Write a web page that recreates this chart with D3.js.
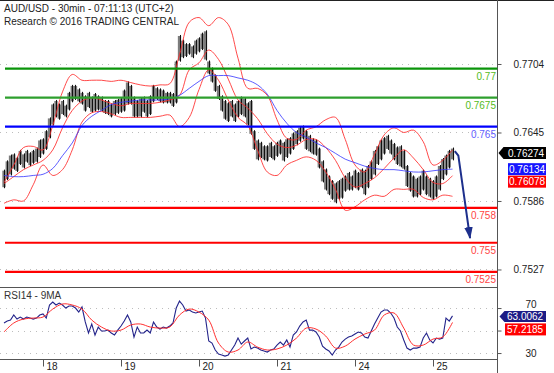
<!DOCTYPE html>
<html><head><meta charset="utf-8">
<script src="https://cdn.jsdelivr.net/npm/d3@7"></script>
<style>
body{margin:0;background:#fff;}
svg{display:block;font-family:"Liberation Sans",Arial,sans-serif;}
</style>
</head><body>
<svg id="chart" width="554" height="373"></svg>
<script>
// ---------- DATA ----------
// hourly high / low (AUD/USD), index 0 = 17th 12:00
const high = [0.7613,0.7621,0.7626,0.7627,0.7624,0.7630,0.7627,0.7630,0.7628,0.7630,
0.7632,0.7639,0.7640,0.7647,0.7658,0.7670,0.7673,0.7670,0.7673,0.7669,
0.7680,0.7686,0.7686,0.7683,0.7680,0.7677,0.7680,0.7676,0.7679,0.7677,
0.7676,0.7673,0.7673,0.7670,0.7673,0.7674,0.7675,0.7682,0.7689,0.7686,
0.7676,0.7673,0.7675,0.7676,0.7673,0.7677,0.7686,0.7684,0.7683,0.7682,
0.7680,0.7680,0.7679,0.7707,0.7729,0.7725,0.7722,0.7722,0.7720,0.7725,
0.7727,0.7731,0.7733,0.7707,0.7701,0.7695,0.7686,0.7677,0.7673,0.7671,
0.7673,0.7670,0.7673,0.7676,0.7675,0.7671,0.7673,0.7647,0.7639,0.7637,
0.7634,0.7634,0.7637,0.7634,0.7637,0.7639,0.7637,0.7640,0.7641,0.7645,
0.7647,0.7650,0.7651,0.7647,0.7643,0.7640,0.7639,0.7632,0.7621,0.7614,
0.7608,0.7604,0.7602,0.7604,0.7606,0.7608,0.7611,0.7608,0.7613,0.7611,
0.7614,0.7613,0.7617,0.7621,0.7630,0.7634,0.7639,0.7641,0.7643,0.7639,
0.7636,0.7633,0.7634,0.7630,0.7617,0.7611,0.7608,0.7606,0.7608,0.7613,
0.7608,0.7606,0.7604,0.7608,0.7617,0.7623,0.7626,0.7630,0.7632];
const low = [0.7597,0.7604,0.7608,0.7613,0.7611,0.7617,0.7614,0.7619,0.7616,0.7618,
0.7619,0.7623,0.7626,0.7630,0.7640,0.7651,0.7658,0.7656,0.7660,0.7658,
0.7664,0.7671,0.7673,0.7671,0.7669,0.7663,0.7666,0.7662,0.7663,0.7664,
0.7663,0.7661,0.7660,0.7658,0.7660,0.7661,0.7662,0.7663,0.7669,0.7669,
0.7658,0.7658,0.7658,0.7662,0.7658,0.7660,0.7671,0.7673,0.7671,0.7670,
0.7670,0.7670,0.7667,0.7670,0.7706,0.7709,0.7710,0.7712,0.7709,0.7712,
0.7714,0.7716,0.7707,0.7695,0.7688,0.7680,0.7673,0.7663,0.7656,0.7654,
0.7658,0.7654,0.7658,0.7660,0.7658,0.7651,0.7643,0.7630,0.7621,0.7623,
0.7621,0.7620,0.7623,0.7621,0.7624,0.7626,0.7620,0.7623,0.7626,0.7630,
0.7634,0.7637,0.7639,0.7630,0.7628,0.7626,0.7625,0.7614,0.7602,0.7595,
0.7591,0.7587,0.7584,0.7587,0.7588,0.7594,0.7595,0.7595,0.7597,0.7595,
0.7597,0.7591,0.7597,0.7604,0.7608,0.7617,0.7621,0.7626,0.7630,0.7626,
0.7621,0.7617,0.7615,0.7613,0.7598,0.7594,0.7589,0.7589,0.7591,0.7595,
0.7591,0.7589,0.7587,0.7589,0.7595,0.7604,0.7608,0.7614,0.7621];
const lastPrice = 0.76274;

// indicator values sampled every 3 hours (index 0,3,6,...)
const bandStep = 3;
const bbUpper = [0.7602,0.7617,0.7632,0.7633,0.7630,0.7651,0.7680,0.7695,0.7690,0.7690,
0.7690,0.7689,0.7690,0.7688,0.7686,0.7685,0.7686,0.7687,0.7712,0.7740,
0.7744,0.7737,0.7744,0.7738,0.7709,0.7683,0.7683,0.7677,0.7656,0.7640,
0.7639,0.7647,0.7650,0.7656,0.7658,0.7639,0.7617,0.7611,0.7626,0.7643,
0.7649,0.7645,0.7647,0.7637,0.7617,0.7621,0.7630];
const bbMiddle = [0.7601,0.7607,0.7613,0.7617,0.7621,0.7630,0.7649,0.7664,0.7672,0.7675,
0.7673,0.7670,0.7668,0.7670,0.7670,0.7670,0.7671,0.7673,0.7677,0.7699,
0.7705,0.7716,0.7708,0.7691,0.7673,0.7666,0.7657,0.7644,0.7635,0.7632,
0.7634,0.7639,0.7639,0.7632,0.7621,0.7606,0.7598,0.7601,0.7606,0.7614,
0.7623,0.7630,0.7623,0.7613,0.7602,0.7601,0.76078];
const bbLower = [0.7584,0.7587,0.7586,0.7600,0.7617,0.7608,0.7613,0.7630,0.7654,0.7662,
0.7663,0.7661,0.7658,0.7658,0.7658,0.7658,0.7659,0.7660,0.7650,0.7658,
0.7682,0.7699,0.7690,0.7673,0.7658,0.7651,0.7630,0.7611,0.7608,0.7617,
0.7621,0.7624,0.7621,0.7611,0.7596,0.7578,0.7581,0.7587,0.7591,0.7590,
0.7596,0.7596,0.7596,0.7589,0.7587,0.7591,0.7590];
const maBlue = [0.7608,0.7607,0.7607,0.7608,0.7609,0.7614,0.7625,0.7636,0.7651,0.7659,
0.7664,0.7669,0.7671,0.7672,0.7673,0.7673,0.7673,0.7674,0.7677,0.7683,
0.7689,0.7694,0.7694,0.7694,0.7692,0.7690,0.7686,0.7678,0.7664,0.7653,
0.7645,0.7641,0.7636,0.7632,0.7627,0.7622,0.7619,0.7616,0.7614,0.7613,
0.7613,0.7612,0.7611,0.7611,0.7612,0.7613,0.76134];

// RSI14 hourly and its 9MA (every 3 hours)
const rsi = [56.7,58.4,59.3,63.8,60.2,62,60.2,62,61.1,60.2,
61.1,63.8,64.7,61.1,72.7,75.3,72.7,74.4,72.7,70,
71.8,71.8,70,66.4,70.9,57.6,47.8,55.8,46,53.1,
49.6,49.6,50.4,47.8,46,50.4,54,58.4,63.8,57.6,
44.2,53.1,47.8,47.8,50.4,47.8,57.6,53.1,51.3,53.1,
52.2,54,56.7,70,76.2,72.7,67.3,68.2,66.4,65.6,
66.4,67.3,61.1,40.7,38.9,32.7,29.1,28.2,27.3,28.2,
32.7,37.1,43.3,37.9,40.7,43.3,33.6,35.3,34.4,32.7,
31.8,30.9,32.7,33.6,37.1,39.8,37.1,41.6,35.3,46,
48.7,54,57.6,59.3,50.4,50.4,48.7,44.2,36.2,33.6,
31.8,28.2,32.7,35.3,39.8,42.4,44.2,45.1,46.9,48.7,
47.8,44.2,43.3,49.6,55.8,61.1,66.4,68.2,68.2,65.6,
61.1,53.1,49.6,41.6,34.4,32.7,34.4,34.4,35.3,43.3,
47.8,41.6,38.9,43.3,42.4,43.3,61.1,58.4,63.0062];
const rsiMA = [48.7,56.7,60.2,61.1,62,69.1,73.6,72.7,69.1,59.3,
53.1,49.6,50.4,54.9,55.8,53.1,52.2,53.1,63.8,69.1,
66.4,59.3,38.9,30.9,32.7,39.8,35.3,32.7,33.6,37.1,
43.3,52.2,51.3,45.1,34.4,36.2,42.4,46.9,50.4,63.8,
65.6,52.2,37.1,37.1,42.4,44.2,57.2185];

// axes
const dayTicks = [12,36,60,84,108,132];
const dayLabels = ["18","19","20","21","24","25"];
const priceTicks = [0.7704,0.7645,0.7586,0.7527];
const rsiGrid = [70,50,30];
const rsiLabels = [70,30];

// key levels
const levelValues = [0.77,0.7675,0.765,0.758,0.755,0.7525];
const levelLabels = ["0.77","0.7675","0.765","0.758","0.755","0.7525"];
const levelKinds = ["res","res","pivot","sup","sup","sup"];

// forecast arrow (time index, price)
const arrowT = [138.7,139.8,143.4];
const arrowP = [0.7629,0.7625,0.7554];

// ---------- DRAW ----------
const svg = d3.select("#chart");
const W = 554, H = 373;
const axisX = 497.5;
const x = d3.scaleLinear().domain([0,138]).range([4,452.5]);
const y = d3.scaleLinear().domain([0.75119,0.77574]).range([287,2]);
const yr = d3.scaleLinear().domain([24.7,88.7]).range([359,287]);

const defs = svg.append("defs");
defs.append("clipPath").attr("id","clipMain").append("rect")
  .attr("x",0).attr("y",1).attr("width",axisX).attr("height",286);
defs.append("clipPath").attr("id","clipRsi").append("rect")
  .attr("x",0).attr("y",287).attr("width",axisX).attr("height",72);
defs.append("marker").attr("id","ah").attr("viewBox","0 0 14 10")
  .attr("refX",13).attr("refY",5).attr("markerWidth",12).attr("markerHeight",11)
  .attr("markerUnits","userSpaceOnUse").attr("orient","auto")
  .append("path").attr("d","M0,0 L14,5 L0,10 Z").attr("fill","#1d2f8c");

// frame lines
svg.append("line").attr("x1",0).attr("x2",W).attr("y1",0.5).attr("y2",0.5).attr("stroke","#222");
svg.append("line").attr("x1",axisX).attr("x2",axisX).attr("y1",0).attr("y2",H).attr("stroke","#555");
svg.append("line").attr("x1",0).attr("x2",axisX).attr("y1",287.5).attr("y2",287.5).attr("stroke","#555");

const main = svg.append("g").attr("clip-path","url(#clipMain)");

// dotted grid
main.selectAll(".grid").data(priceTicks).join("line")
  .attr("x1",0).attr("x2",axisX)
  .attr("y1",d=>Math.round(y(d))+0.5).attr("y2",d=>Math.round(y(d))+0.5)
  .attr("stroke","#bdbdbd").attr("stroke-dasharray","1,5");

// bars
const barG = main.append("g");
barG.selectAll("rect").data(high).join("rect")
  .attr("x",(d,i)=>x(i)-1.65).attr("width",3.3)
  .attr("y",(d,i)=>y(d)+1).attr("height",(d,i)=>Math.max(1,y(low[i])-y(d)-2))
  .attr("fill","#7c7c7c");
barG.selectAll("line").data(high).join("line")
  .attr("x1",(d,i)=>Math.round(x(i))+0.5).attr("x2",(d,i)=>Math.round(x(i))+0.5)
  .attr("y1",d=>y(d)).attr("y2",(d,i)=>y(low[i]))
  .attr("stroke","#111").attr("stroke-width",1);

// indicators
const bandLine = d3.line().x((d,k)=>x(k*bandStep)).y(d=>y(d)).curve(d3.curveCatmullRom.alpha(0.5));
[bbUpper,bbMiddle,bbLower].forEach(arr=>{
  main.append("path").attr("d",bandLine(arr)).attr("fill","none")
    .attr("stroke","#ff2a2a").attr("stroke-width",1).attr("stroke-opacity",0.85);
});
main.append("path").attr("d",bandLine(maBlue)).attr("fill","none")
  .attr("stroke","#3434ff").attr("stroke-width",1).attr("stroke-opacity",0.8);

// key levels
const lineCol = {res:["#0a940a","#2e9f2e"],pivot:["#0000ff","#0000ff"],sup:["#ff0000","#ff0000"]};
const textCol = {res:"#55bb22",pivot:"#6262ff",sup:"#ff4444"};
levelValues.forEach((v,i)=>{
  const k = levelKinds[i];
  const col = k==="res" ? lineCol.res[i] : lineCol[k][0];
  main.append("line").attr("x1",5).attr("x2",axisX)
    .attr("y1",y(v)).attr("y2",y(v)).attr("stroke",col).attr("stroke-width",2.2);
  svg.append("text").attr("x",496).attr("y",y(v)+11).attr("text-anchor","end")
    .attr("font-size",10).attr("fill",textCol[k]).text(levelLabels[i]);
});

// arrow
const arrowLine = d3.line().x(d=>x(d[0])).y(d=>y(d[1]));
svg.append("path").attr("d",arrowLine(arrowT.map((t,i)=>[t,arrowP[i]])))
  .attr("fill","none").attr("stroke","#1d2f8c").attr("stroke-width",2)
  .attr("marker-end","url(#ah)");

// price axis
const yAxis = svg.append("g").attr("transform",`translate(${axisX},0)`)
  .call(d3.axisRight(y).tickValues(priceTicks).tickFormat(d3.format(".4f")).tickSize(4).tickPadding(12));
yAxis.select(".domain").remove();
yAxis.selectAll("line").attr("stroke","#555");
yAxis.selectAll("text").attr("font-size",10).attr("fill","#222")
  .attr("font-family","Liberation Sans, Arial, sans-serif");

// price value boxes
function tagBoxes(items, minGap){
  let prev = -Infinity;
  items.forEach(it=>{
    let c = it.c; if (c < prev + minGap) c = prev + minGap; prev = c;
    const h = 12;
    if (it.arrow){
      svg.append("path").attr("d",`M${axisX+1},${c} L${axisX+6},${c-h/2} L546,${c-h/2} L546,${c+h/2} L${axisX+6},${c+h/2} Z`).attr("fill",it.fill);
    } else {
      svg.append("rect").attr("x",it.x0).attr("y",c-h/2).attr("width",546-it.x0).attr("height",h).attr("fill",it.fill);
    }
    svg.append("text").attr("x",it.tx).attr("y",c+3.6).attr("font-size",10)
      .attr("fill","#fff").text(it.text);
  });
}
tagBoxes([
  {c:y(lastPrice),fill:"#000",arrow:true,tx:508,text:lastPrice.toFixed(5)},
  {c:y(maBlue[maBlue.length-1]),fill:"#1515ff",x0:508,tx:509,text:maBlue[maBlue.length-1].toFixed(5)},
  {c:y(bbMiddle[bbMiddle.length-1]),fill:"#ff0000",x0:508,tx:509,text:bbMiddle[bbMiddle.length-1].toFixed(5)}
],12.5);

// title
svg.append("text").attr("x",4).attr("y",12).attr("font-size",10).attr("fill","#222")
  .text("AUD/USD - 30min - 07:11:13 (UTC+2)");
svg.append("text").attr("x",4).attr("y",25).attr("font-size",10).attr("fill","#222")
  .text("Research © 2016 TRADING CENTRAL");

// ---------- RSI panel ----------
const rp = svg.append("g").attr("clip-path","url(#clipRsi)");
rp.selectAll(".rg").data(rsiGrid).join("line")
  .attr("x1",0).attr("x2",axisX)
  .attr("y1",d=>Math.round(yr(d))+0.5).attr("y2",d=>Math.round(yr(d))+0.5)
  .attr("stroke","#bdbdbd").attr("stroke-dasharray","1,5");
rp.append("path").attr("d",d3.line().x((d,i)=>x(i)).y(d=>yr(d))(rsi))
  .attr("fill","none").attr("stroke","#23238a").attr("stroke-width",1.1);
rp.append("path").attr("d",d3.line().x((d,k)=>x(k*bandStep)).y(d=>yr(d)).curve(d3.curveCatmullRom.alpha(0.5))(rsiMA))
  .attr("fill","none").attr("stroke","#ff3030").attr("stroke-width",1);
svg.append("text").attr("x",4).attr("y",299).attr("font-size",10).attr("fill","#333").text("RSI14 - 9MA");

const rAxis = svg.append("g").attr("transform",`translate(${axisX},0)`)
  .call(d3.axisRight(yr).tickValues(rsiGrid).tickSize(4).tickFormat(d=>rsiLabels.includes(d)?d:"").tickPadding(24));
rAxis.select(".domain").remove();
rAxis.selectAll("line").attr("stroke","#555");
rAxis.selectAll("text").attr("font-size",10).attr("fill","#222")
  .attr("font-family","Liberation Sans, Arial, sans-serif");
// lift the "70" label a little so it clears the value tag below it
rAxis.selectAll("text").filter(d=>d===70).attr("dy","-0.05em");

const lastR = rsi[rsi.length-1], lastRM = rsiMA[rsiMA.length-1];
(function(){
  const c1 = yr(lastR) + 0.5; let c2 = yr(lastRM); if (c2 < c1 + 13) c2 = c1 + 13;
  svg.append("path").attr("d",`M${axisX+2},${c1} L${axisX+7},${c1-5.5} L546,${c1-5.5} L546,${c1+5.5} L${axisX+7},${c1+5.5} Z`).attr("fill","#1c1c86");
  svg.append("text").attr("x",507).attr("y",c1+3.6).attr("font-size",10).attr("fill","#fff").text(lastR.toFixed(4));
  svg.append("rect").attr("x",505).attr("y",c2-6).attr("width",41).attr("height",12).attr("fill","#ff0000");
  svg.append("text").attr("x",507).attr("y",c2+3.6).attr("font-size",10).attr("fill","#fff").text(lastRM.toFixed(4));
})();

// time axis
svg.append("line").attr("x1",0).attr("x2",axisX).attr("y1",359.5).attr("y2",359.5).attr("stroke","#555");
const xAxis = svg.append("g").attr("transform","translate(0,359.5)")
  .call(d3.axisBottom(x).tickValues(dayTicks).tickFormat((d,i)=>dayLabels[i]).tickSize(7));
xAxis.select(".domain").remove();
xAxis.selectAll("line").attr("stroke","#555");
xAxis.selectAll("text").attr("font-size",10).attr("fill","#222").attr("text-anchor","start")
  .attr("x",3).attr("y",3).attr("dy","0.71em")
  .attr("font-family","Liberation Sans, Arial, sans-serif");
</script>
</body></html>
